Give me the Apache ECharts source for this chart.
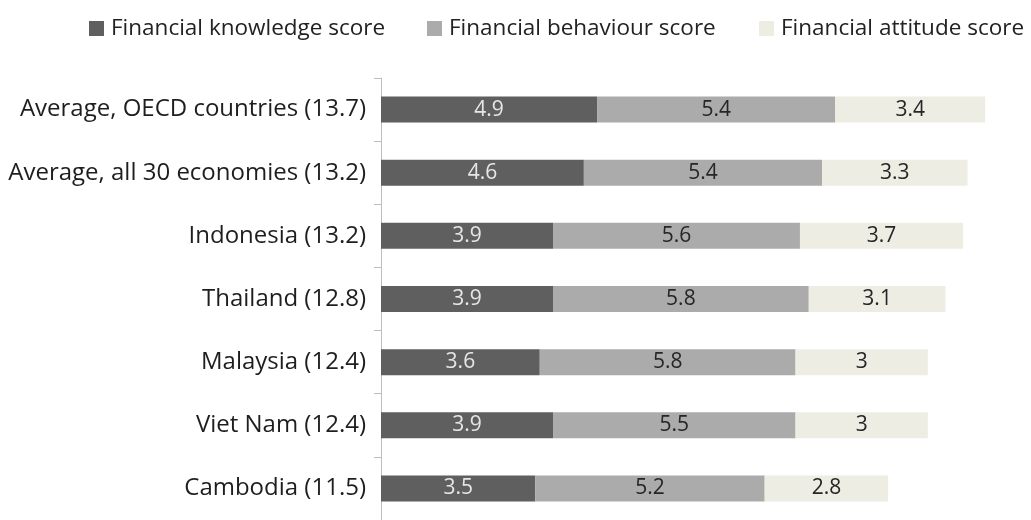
<!DOCTYPE html>
<html><head><meta charset="utf-8">
<script src="https://cdn.jsdelivr.net/npm/echarts@6/dist/echarts.min.js"></script>
<style>html,body{margin:0;padding:0;background:#fff}#c{width:1031px;height:520px}</style>
</head><body><div id="c"></div>
<script>
const categories = ["Average, OECD countries (13.7)","Average, all 30 economies (13.2)","Indonesia (13.2)","Thailand (12.8)","Malaysia (12.4)","Viet Nam (12.4)","Cambodia (11.5)"];
const knowledge = [4.9, 4.6, 3.9, 3.9, 3.6, 3.9, 3.5];
const behaviour = [5.4, 5.4, 5.6, 5.8, 5.8, 5.5, 5.2];
const attitude = [3.4, 3.3, 3.7, 3.1, 3, 3, 2.8];
const seriesNames = ["Financial knowledge score","Financial behaviour score","Financial attitude score"];

const font = "'Open Sans', sans-serif";
const chart = echarts.init(document.getElementById('c'));
function mk(name, data, color, labelColor){
  return {
    name, type:'bar', stack:'t', data, barWidth:26,
    itemStyle:{color},
    label:{show:true, position:'inside', color:labelColor, fontFamily:font, fontSize:21,
      formatter:p=>String(p.value)},
    emphasis:{disabled:true}
  };
}
const legendLefts = [89, 427, 759];
const legends = seriesNames.map((n,i)=>({
  top:17, left:legendLefts[i], padding:0, itemWidth:15, itemHeight:15, icon:'rect',
  selectedMode:false,
  textStyle:{fontFamily:font, fontSize:22.5, color:'#222', padding:[0,0,0,2]},
  data:[n]
}));
chart.setOption({
  animation:false,
  textStyle:{fontFamily:font},
  legend:legends,
  grid:{left:381, top:78, width:617.4, height:448},
  xAxis:{type:'value', min:0, max:14, show:false},
  yAxis:{type:'category', inverse:true, data:categories,
    axisLine:{show:true, lineStyle:{color:'#bdbdbd', width:1}},
    axisTick:{show:true, length:7, lineStyle:{color:'#bdbdbd'}},
    axisLabel:{color:'#1e1e1e', fontFamily:font, fontSize:24, margin:15}
  },
  series:[
    mk(seriesNames[0], knowledge, '#5f5f5f', '#e6e6e6'),
    mk(seriesNames[1], behaviour, '#ababab', '#262626'),
    mk(seriesNames[2], attitude, '#eeede3', '#262626')
  ]
});
</script></body></html>
